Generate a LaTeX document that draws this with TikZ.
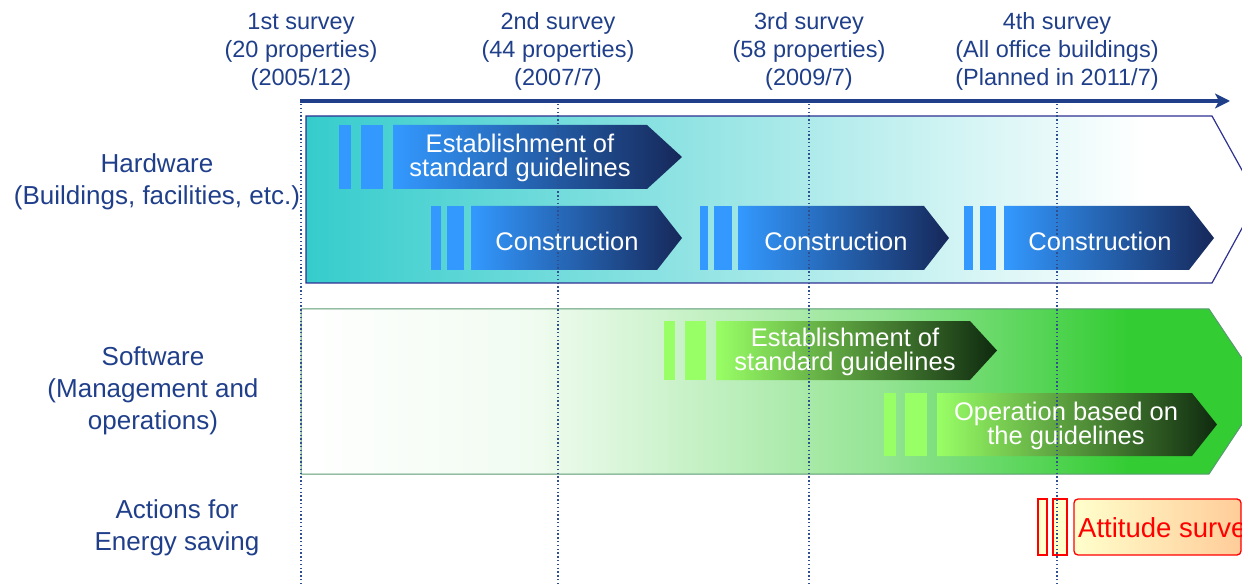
\documentclass[tikz,border=0pt]{standalone}
\usepackage{fontspec}
\setmainfont{Liberation Sans}
\usetikzlibrary{arrows.meta}

\definecolor{labelblue}{HTML}{203F8A}
\definecolor{guideblue}{HTML}{2F4F8F}
\definecolor{hwteal}{HTML}{36CCCC}
\definecolor{hwedge}{HTML}{2E3192}
\definecolor{barblue}{HTML}{3399FF}
\definecolor{arrnavy}{HTML}{16285A}
\definecolor{swgreen}{HTML}{33CC33}
\definecolor{swedge}{HTML}{5A9A72}
\definecolor{barlime}{HTML}{99FF66}
\definecolor{arrforest}{HTML}{0F2A0F}
\definecolor{eslight}{HTML}{FFFFCC}
\definecolor{espeach}{HTML}{FFCC99}
\colorlet{swmint}{swgreen!7!white}
\colorlet{swmid}{swgreen!52!white}

\pgfdeclarehorizontalshading{hardband}{100bp}{color(0bp)=(hwteal); color(25bp)=(hwteal); color(69bp)=(white); color(100bp)=(white)}
\pgfdeclarehorizontalshading{softband}{100bp}{color(0bp)=(white); color(25bp)=(white); color(37bp)=(swmint); color(55bp)=(swmid); color(68bp)=(swgreen); color(100bp)=(swgreen)}

% chevron: style, left x, body end x, tip x, top y, bottom y
\newcommand{\chev}[6]{\path[#1] (#2,#5) -- (#3,#5) -- (#4,{(#5+#6)/2}) -- (#3,#6) -- (#2,#6) -- cycle;}

\begin{document}
\begin{tikzpicture}[x=1pt,y=-1pt]
	\tikzset{rowlabel/.style={text=labelblue, align=center, inner sep=0pt, font=\fontsize{26}{32}\selectfont}}
	\tikzset{survey/.style={text=labelblue, align=center, inner sep=0pt, font=\fontsize{23.5}{28}\selectfont}}
	\tikzset{arrowtext/.style={text=white, align=center, inner sep=0pt, font=\fontsize{25.5}{24}\selectfont}}
	\tikzset{hwbar/.style={fill=barblue}}
	\tikzset{hwarrow/.style={left color=barblue, right color=arrnavy}}
	\tikzset{swbar/.style={fill=barlime}}
	\tikzset{swarrow/.style={left color=barlime, right color=arrforest}}
	\tikzset{esbar/.style={draw=red, fill=eslight, line width=1.3pt}}
	\tikzset{timeguide/.style={draw=guideblue, line width=1.2pt, dash pattern=on 1.4pt off 2.4pt}}
	\useasboundingbox (0,0) rectangle (1242,585);
	\clip (0,0) rectangle (1242,585);

	% survey heads and time axis
	\node[survey] (s1) at (301,51.5) {1st survey\\(20 properties)\\(2005/12)};
	\node[survey] (s2) at (558,51.5) {2nd survey\\(44 properties)\\(2007/7)};
	\node[survey] (s3) at (809,51.5) {3rd survey\\(58 properties)\\(2009/7)};
	\node[survey] (s4) at (1057,51.5) {4th survey\\(All office buildings)\\(Planned in 2011/7)};
	\coordinate (axis-start) at (300,101);
	\coordinate (axis-end) at (1230,101);
	\draw[labelblue, line width=4pt, -{Stealth[length=15pt,width=15pt,inset=4pt]}] (axis-start) -- (axis-end);

	% row labels
	\node[rowlabel] (hw) at (157,182) {Hardware\\(Buildings, facilities, etc.)};
	\node[rowlabel] (sw) at (153,391) {Software\\(Management and\\operations)};
	\node[rowlabel] (es) at (177,528) {Actions for\\Energy saving};

	% hardware band
	\shadedraw[shading=hardband, draw=hwedge, line width=1.2pt] (306,116) -- (1212,116) -- (1258,199) -- (1212,283) -- (306,283) -- cycle;
	\fill[hwbar] (339,125) rectangle (351,189);
	\fill[hwbar] (361,125) rectangle (383,189);
	\chev{hwarrow}{393}{647}{682}{125}{189}
	\foreach \a/\b/\c/\d/\e/\f in {431/441/447/464/471/657, 700/708/714/732/738/924, 964/973/980/996/1004/1189}{
		\fill[hwbar] (\a,206) rectangle (\b,270);
		\fill[hwbar] (\c,206) rectangle (\d,270);
		\chev{hwarrow}{\e}{\f}{\f+25}{206}{270}
	}

	% software band
	\shadedraw[shading=softband, draw=swedge, line width=1pt] (301,309) -- (1209,309) -- (1264,391) -- (1209,474) -- (301,474) -- cycle;
	\fill[swbar] (664,321) rectangle (675,380);
	\fill[swbar] (685,321) rectangle (706,380);
	\chev{swarrow}{716}{970}{997}{321}{380}
	\fill[swbar] (884,393) rectangle (896,456);
	\fill[swbar] (905,393) rectangle (927,456);
	\chev{swarrow}{937}{1192}{1217}{393}{456}

	% energy saving
	\draw[esbar] (1038,499) rectangle (1047,555);
	\draw[esbar] (1053,499) rectangle (1067,555);
	\draw[draw=red, line width=1.3pt, rounded corners=4pt, left color=eslight, right color=espeach] (1074,499) rectangle (1241,555);

	% survey guides
	\foreach \x in {301,558,809,1057}
		\draw[timeguide] (\x,104) -- (\x,585);

	% texts in the bars
	\node[arrowtext] (hw-guide) at (520,158) {Establishment of\\standard guidelines};
	\node[arrowtext] (hw-build1) at (567,241) {Construction};
	\node[arrowtext] (hw-build2) at (836,241) {Construction};
	\node[arrowtext] (hw-build3) at (1100,241) {Construction};
	\node[arrowtext] (sw-guide) at (845,352) {Establishment of\\standard guidelines};
	\node[arrowtext] (sw-run) at (1066,426) {Operation based on\\the guidelines};
	\node[text=red, anchor=west, inner sep=0pt, font=\fontsize{27.5}{32}\selectfont] (es-survey) at (1078,530) {Attitude survey};
\end{tikzpicture}
\end{document}
